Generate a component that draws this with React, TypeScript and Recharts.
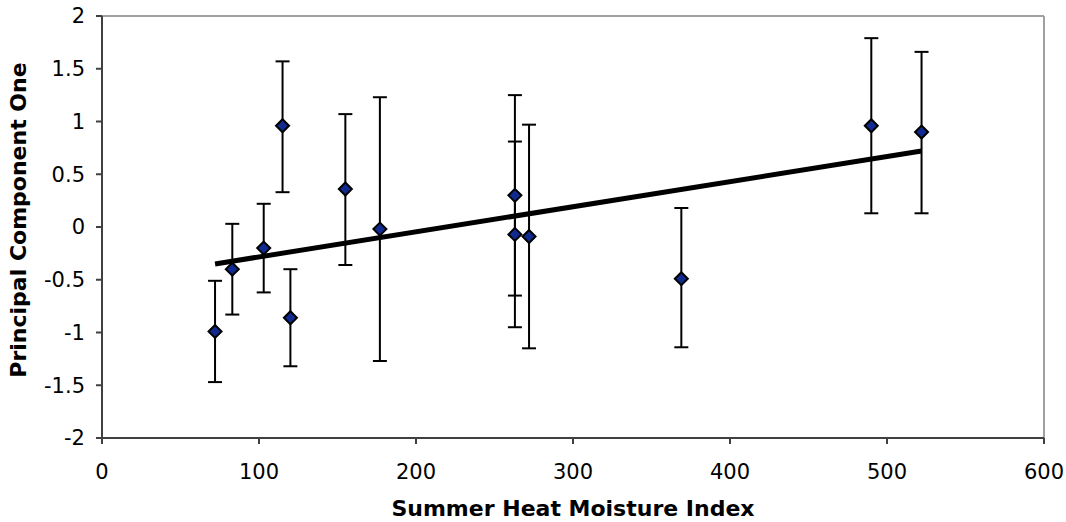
import {
  ScatterChart,
  Scatter,
  XAxis,
  YAxis,
  ErrorBar,
  ReferenceLine,
  Label,
} from 'recharts'

// ── Data ──────────────────────────────────────────────────────────────────────

const heatIndex = [72, 83, 103, 115, 120, 155, 177, 263, 263, 272, 369, 490, 522]
const pcOne = [-0.99, -0.4, -0.2, 0.96, -0.86, 0.36, -0.02, 0.3, -0.07, -0.09, -0.49, 0.96, 0.9]
const barTop = [-0.51, 0.03, 0.22, 1.57, -0.4, 1.07, 1.23, 1.25, 0.81, 0.97, 0.18, 1.79, 1.66]
const barBottom = [-1.47, -0.83, -0.62, 0.33, -1.32, -0.36, -1.27, -0.65, -0.95, -1.15, -1.14, 0.13, 0.13]

const trendX = [72, 522]
const trendY = [-0.35, 0.72]

const xTicks = [0, 100, 200, 300, 400, 500, 600]
const yTicks = [-2, -1.5, -1, -0.5, 0, 0.5, 1, 1.5, 2]

const points = heatIndex.map((x, i) => ({
  x,
  y: pcOne[i],
  err: [pcOne[i] - barBottom[i], barTop[i] - pcOne[i]],
}))

const trend = trendX.map((x, i) => ({ x, y: trendY[i] }))

// ── Style ─────────────────────────────────────────────────────────────────────

const FONT = '"DejaVu Sans", Verdana, sans-serif'
const AXIS = '#404040'
const BORDER = '#a0a0a0'
const tickStyle = { fontSize: 21, fill: '#000', fontFamily: FONT }

function Diamond(props: any) {
  const { cx, cy } = props
  if (cx == null || cy == null) return <g />
  const r = 6.5
  return (
    <polygon
      points={`${cx},${cy - r} ${cx + r},${cy} ${cx},${cy + r} ${cx - r},${cy}`}
      fill="#102a8f"
      stroke="#000"
      strokeWidth={2}
    />
  )
}

const Nothing = () => <g />

export default function App() {
  return (
    <div style={{ position: 'absolute', left: 0, top: 0, background: '#fff' }}>
      <ScatterChart
        width={1066}
        height={522}
        margin={{ top: 16, right: 22, bottom: 0, left: 0 }}
      >
        <XAxis
          type="number"
          dataKey="x"
          domain={[0, 600]}
          ticks={xTicks}
          height={84}
          tickSize={6}
          tickMargin={20}
          stroke={AXIS}
          strokeWidth={2}
          tick={tickStyle}
        >
          <Label
            content={({ viewBox }: any) => (
              <text
                x={viewBox.x + viewBox.width / 2}
                y={viewBox.y + viewBox.height - 14}
                textAnchor="middle"
                dominantBaseline="central"
                fontFamily={FONT}
                fontSize={22}
                fontWeight="bold"
                fill="#000"
              >
                Summer Heat Moisture Index
              </text>
            )}
          />
        </XAxis>
        <YAxis
          type="number"
          dataKey="y"
          domain={[-2, 2]}
          ticks={yTicks}
          width={102}
          tickSize={6}
          tickMargin={11}
          stroke={AXIS}
          strokeWidth={2}
          tick={tickStyle}
        >
          <Label
            content={({ viewBox }: any) => {
              const cx = 18
              const cy = viewBox.y + viewBox.height / 2 - 7
              return (
                <text
                  x={cx}
                  y={cy}
                  transform={`rotate(-90 ${cx} ${cy})`}
                  textAnchor="middle"
                  dominantBaseline="central"
                  fontFamily={FONT}
                  fontSize={22}
                  fontWeight="bold"
                  fill="#000"
                >
                  Principal Component One
                </text>
              )
            }}
          />
        </YAxis>
        <ReferenceLine y={2} stroke={BORDER} strokeWidth={2} />
        <ReferenceLine x={600} stroke={BORDER} strokeWidth={2} />
        <Scatter
          data={points}
          shape={Diamond}
          isAnimationActive={false}
        >
          <ErrorBar
            dataKey="err"
            direction="y"
            width={7}
            stroke="#000"
            strokeWidth={2}
            isAnimationActive={false}
          />
        </Scatter>
        <Scatter
          data={trend}
          shape={Nothing}
          line={{ stroke: '#000', strokeWidth: 5 }}
          lineType="joint"
          isAnimationActive={false}
        />
      </ScatterChart>
    </div>
  )
}
